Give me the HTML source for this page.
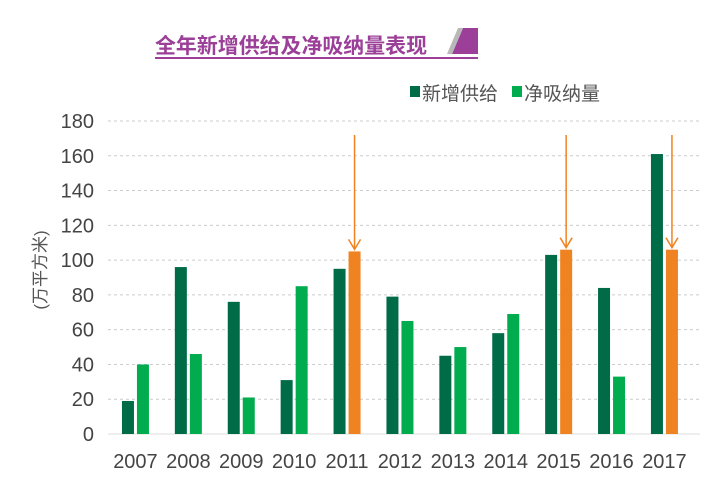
<!DOCTYPE html>
<html><head><meta charset="utf-8"><style>
body{margin:0;background:#fff;}
svg text{font-family:"Liberation Sans","Noto Sans CJK SC",sans-serif;}
</style></head><body>
<svg width="724" height="477" viewBox="0 0 724 477">
<g>
<text x="155" y="53" font-size="21" font-weight="bold" fill="#9b3f98" textLength="272" lengthAdjust="spacingAndGlyphs">全年新增供给及净吸纳量表现</text>
<rect x="155" y="57" width="323" height="2" fill="#9b3f98"/>
<polygon points="452,54 463,28 478,28 478,54" fill="#9b3f98"/>
<polygon points="447,54 458,28 463,28 452,54" fill="#b8b8b8"/>
</g>
<g>
<rect x="410" y="86" width="10" height="11" fill="#006b47"/>
<text x="422" y="100" font-size="19" fill="#555">新增供给</text>
<rect x="512" y="86" width="10" height="11" fill="#00ac4e"/>
<text x="524" y="100" font-size="19" fill="#555">净吸纳量</text>
</g>
<text transform="translate(46,270) rotate(-90)" text-anchor="middle" font-size="17" fill="#555">(万平方米)</text>
<g id="grid"></g><g id="bars"></g><g id="xlabels"></g>
</svg>
<script>
const categories=["2007","2008","2009","2010","2011","2012","2013","2014","2015","2016","2017"];
const supply=[19,96,76,31,95,79,45,58,103,84,161];
const absorption=[40,46,21,85,105,65,50,69,106,33,106];
const highlighted=["2011","2015","2017"];
const yTicks=[0,20,40,60,80,100,120,140,160,180];
const NS="http://www.w3.org/2000/svg";
const y0=434,y1=121,yMax=180,x0=109,step=52.9;
const y=v=>y0-(v/yMax)*(y0-y1);
const cx=i=>x0+step*i+step/2;
function mk(t,a,p){const e=document.createElementNS(NS,t);for(const k in a)e.setAttribute(k,a[k]);p.appendChild(e);return e;}
const grid=document.getElementById('grid'),bars=document.getElementById('bars'),xl=document.getElementById('xlabels');
yTicks.forEach(v=>{
 const l=mk('line',{x1:108,x2:700,y1:y(v),y2:y(v),stroke:v===0?'#ddd':'#ccc','stroke-dasharray':v===0?'':'3,3','stroke-width':1},grid);
 
 
 const t=mk('text',{x:94,y:y(v)+7,'text-anchor':'end','font-size':20,fill:'#444'},grid);
 t.textContent=v;
 
 
});
categories.forEach((c,i)=>{
 const hi=highlighted.includes(c);
 const b1=mk('rect',{x:cx(i)-13.5,y:y(supply[i]),width:12,height:y0-y(supply[i]),fill:'#006b47'},bars);
 
 
 const b2=mk('rect',{x:cx(i)+1.5,y:y(absorption[i]),width:12,height:y0-y(absorption[i]),fill:hi?'#f08321':'#00ac4e'},bars);
 
 
 if(hi){
  const ax=cx(i)+7.5,ty=y(absorption[i])-2;
  const g=mk('g',{stroke:'#f08321','stroke-width':1.5,fill:'none'},bars);
  
  
  mk('line',{x1:ax,x2:ax,y1:135,y2:ty},g);
  mk('polyline',{points:`${ax-6},${ty-10} ${ax},${ty} ${ax+6},${ty-10}`},g);
 }
 const t=mk('text',{x:cx(i),y:468,'text-anchor':'middle','font-size':20,fill:'#444'},xl);
 t.textContent=c;
 
 
});
</script>
</body></html>
